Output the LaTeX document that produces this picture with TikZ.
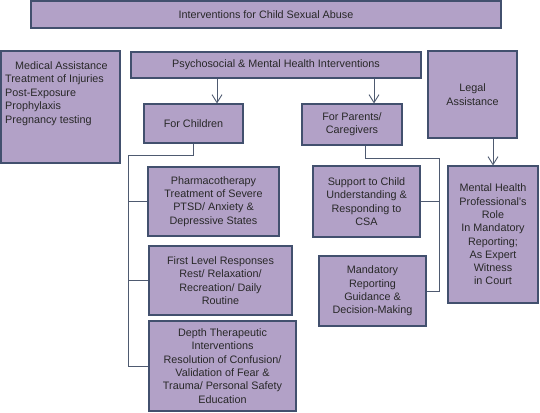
\documentclass[tikz,border=0pt]{standalone}
\usepackage{fontspec}
\setmainfont{Liberation Sans}
\usetikzlibrary{arrows.meta}
\definecolor{boxfill}{RGB}{178,161,199}
\definecolor{boxline}{RGB}{66,80,110}
\definecolor{linkline}{RGB}{78,90,112}
\definecolor{txt}{RGB}{40,40,40}

\begin{document}
\begin{tikzpicture}[x = 1pt, y = -1pt,
  box/.style = {draw = boxline, line width = 1.1pt, fill = boxfill, text = txt, align = center, inner sep = 2pt,
    font = \fontsize{10.8}{13.3}\selectfont},
  link/.style = {draw = linkline, line width = 0.9pt},
  arr/.style = {link, -{Straight Barb[length = 8pt, width = 10pt]}}]
\useasboundingbox (0, 0) rectangle (540, 412);
%\draw[very thin, color = gray](0, 0) grid[step = 20] (540, 412);
% top row
\node [box, minimum width = 470pt, minimum height = 27pt] (top) at (266, 14.5) {Interventions for Child Sexual Abuse};
\node [box, minimum width = 119pt, minimum height = 112pt] (med) at (60.5, 107) {};
\node [anchor = north west, align = left, inner sep = 0pt, text = txt, font = \fontsize{10.8}{13.6}\selectfont] (medtxt) at (5, 61)
  {\hspace*{10pt}Medical Assistance\\Treatment of Injuries\\Post-Exposure\\Prophylaxis\\Pregnancy testing};
\node [box, minimum width = 290pt, minimum height = 26pt] (psy) at (276, 65) {Psychosocial \& Mental Health Interventions};
\node [box, minimum width = 89pt, minimum height = 87pt] (legal) at (472.5, 94.5) {Legal\\Assistance};
% second row
\node [box, minimum width = 99pt, minimum height = 39pt] (child) at (193.5, 123.5) {For Children};
\node [box, minimum width = 100pt, minimum height = 41pt] (parents) at (352, 124.5) {For Parents/\\Caregivers};
\node [box, minimum width = 90pt, minimum height = 137pt] (mhp) at (493, 234.5)
  {Mental Health\\Professional's\\Role\\In Mandatory\\Reporting;\\As Expert\\Witness\\in Court};
% children column
\node [box, minimum width = 131pt, minimum height = 69pt] (pharma) at (213.5, 201.5)
  {Pharmacotherapy\\Treatment of Severe\\PTSD/ Anxiety \&\\Depressive States};
\node [box, minimum width = 143pt, minimum height = 69pt] (first) at (220.5, 280.5)
  {First Level Responses\\Rest/ Relaxation/\\Recreation/ Daily\\Routine};
\node [box, minimum width = 147pt, minimum height = 90pt] (depth) at (222.5, 366)
  {Depth Therapeutic\\Interventions\\Resolution of Confusion/\\Validation of Fear \&\\Trauma/ Personal Safety\\Education};
% parents column
\node [box, minimum width = 107pt, minimum height = 71pt] (support) at (366.5, 201.5)
  {Support to Child\\Understanding \&\\Responding to\\CSA};
\node [box, minimum width = 107pt, minimum height = 70pt] (mand) at (372.5, 291)
  {Mandatory\\Reporting\\Guidance \&\\Decision-Making};
% arrows
\coordinate (achild) at (217, 0);
\coordinate (aparent) at (374, 0);
\draw [arr] (psy.south -| achild) -- (child.north -| achild);
\draw [arr] (psy.south -| aparent) -- (parents.north -| aparent);
\draw [arr] (legal.south -| mhp) -- (mhp.north);
% brackets
\coordinate (cbus) at (128, 155);
\draw [link] (child.south) |- (cbus) |- (depth.west);
\draw [link] (cbus |- pharma.west) -- (pharma.west);
\draw [link] (cbus |- first.west) -- (first.west);
\coordinate (pdrop) at (365, 0);
\coordinate (pbus) at (439, 158);
\draw [link] (parents.south -| pdrop) |- (pbus) |- (mand.east);
\draw [link] (pbus |- support.east) -- (support.east);
\end{tikzpicture}
\end{document}
